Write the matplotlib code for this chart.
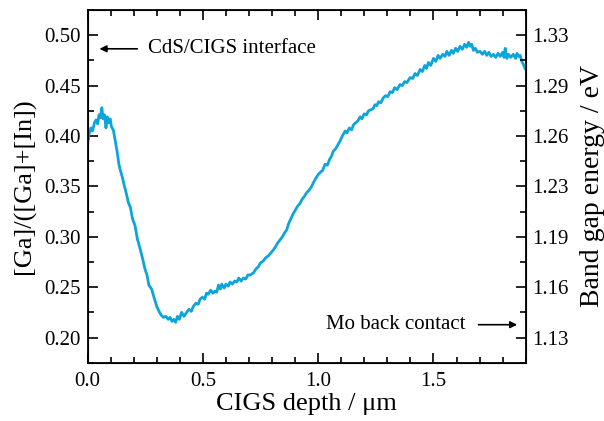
import matplotlib
matplotlib.use("Agg")
import matplotlib.pyplot as plt
from matplotlib.ticker import MultipleLocator

depth_um = [0.000, 0.008, 0.015, 0.022, 0.030, 0.037, 0.044, 0.050, 0.056, 0.062,
            0.068, 0.074, 0.080, 0.086, 0.092, 0.098, 0.104, 0.112, 0.119, 0.128,
            0.136, 0.141, 0.150, 0.158, 0.166, 0.177, 0.186, 0.195, 0.206, 0.216,
            0.228, 0.238, 0.249, 0.258, 0.266, 0.278, 0.288, 0.300, 0.310, 0.320,
            0.329, 0.340, 0.350, 0.358, 0.366, 0.374, 0.382, 0.390, 0.398, 0.408,
            0.418, 0.430, 0.440, 0.450, 0.459, 0.470, 0.480, 0.488, 0.498, 0.508,
            0.516, 0.524, 0.534, 0.544, 0.552, 0.560, 0.568, 0.576, 0.582, 0.592,
            0.600, 0.610, 0.618, 0.628, 0.638, 0.647, 0.656, 0.666, 0.676, 0.686,
            0.695, 0.705, 0.719, 0.730, 0.740, 0.750, 0.762, 0.772, 0.784, 0.795,
            0.806, 0.815, 0.825, 0.835, 0.845, 0.855, 0.864, 0.872, 0.880, 0.892,
            0.900, 0.910, 0.921, 0.930, 0.940, 0.951, 0.960, 0.972, 0.980, 0.990,
            1.001, 1.010, 1.020, 1.030, 1.040, 1.050, 1.058, 1.066, 1.075, 1.085,
            1.095, 1.105, 1.117, 1.125, 1.135, 1.145, 1.153, 1.162, 1.172, 1.182,
            1.190, 1.200, 1.210, 1.218, 1.228, 1.238, 1.246, 1.254, 1.262, 1.272,
            1.283, 1.292, 1.302, 1.312, 1.322, 1.332, 1.342, 1.355, 1.365, 1.375,
            1.385, 1.399, 1.410, 1.420, 1.430, 1.442, 1.452, 1.462, 1.470, 1.478,
            1.488, 1.500, 1.510, 1.520, 1.529, 1.540, 1.550, 1.558, 1.568, 1.578,
            1.586, 1.596, 1.605, 1.615, 1.625, 1.635, 1.644, 1.652, 1.659, 1.666,
            1.673, 1.682, 1.690, 1.702, 1.712, 1.722, 1.731, 1.740, 1.750, 1.760,
            1.770, 1.780, 1.789, 1.800, 1.806, 1.811, 1.818, 1.825, 1.835, 1.846,
            1.856, 1.862, 1.868, 1.876, 1.883, 1.890, 1.897]
ggi = [0.392, 0.403, 0.408, 0.405, 0.413, 0.416, 0.412, 0.421, 0.418, 0.428,
       0.417, 0.421, 0.408, 0.419, 0.413, 0.417, 0.409, 0.406, 0.397, 0.385,
       0.372, 0.367, 0.360, 0.352, 0.345, 0.334, 0.329, 0.318, 0.311, 0.298,
       0.288, 0.279, 0.268, 0.262, 0.252, 0.248, 0.240, 0.231, 0.226, 0.222,
       0.220, 0.221, 0.218, 0.220, 0.216, 0.218, 0.215, 0.221, 0.218, 0.225,
       0.221, 0.225, 0.228, 0.226, 0.231, 0.234, 0.233, 0.238, 0.240, 0.238,
       0.244, 0.243, 0.247, 0.244, 0.246, 0.245, 0.252, 0.248, 0.253, 0.249,
       0.253, 0.251, 0.255, 0.253, 0.256, 0.255, 0.259, 0.256, 0.259, 0.258,
       0.262, 0.262, 0.264, 0.268, 0.270, 0.274, 0.276, 0.279, 0.281, 0.284,
       0.287, 0.290, 0.294, 0.297, 0.300, 0.304, 0.307, 0.313, 0.317, 0.323,
       0.326, 0.330, 0.333, 0.337, 0.340, 0.344, 0.346, 0.350, 0.354, 0.358,
       0.362, 0.364, 0.366, 0.372, 0.371, 0.377, 0.380, 0.385, 0.387, 0.391,
       0.395, 0.400, 0.405, 0.403, 0.408, 0.406, 0.411, 0.413, 0.415, 0.419,
       0.417, 0.422, 0.421, 0.425, 0.426, 0.427, 0.431, 0.430, 0.434, 0.433,
       0.438, 0.440, 0.439, 0.444, 0.443, 0.448, 0.446, 0.451, 0.450, 0.454,
       0.453, 0.458, 0.457, 0.462, 0.460, 0.466, 0.464, 0.470, 0.467, 0.473,
       0.470, 0.477, 0.474, 0.480, 0.477, 0.481, 0.479, 0.484, 0.480, 0.485,
       0.482, 0.487, 0.484, 0.489, 0.486, 0.491, 0.488, 0.493, 0.489, 0.491,
       0.485, 0.487, 0.483, 0.484, 0.481, 0.484, 0.480, 0.483, 0.479, 0.481,
       0.478, 0.482, 0.479, 0.483, 0.478, 0.487, 0.477, 0.481, 0.478, 0.481,
       0.477, 0.482, 0.479, 0.480, 0.474, 0.471, 0.467]

left_ticks = [0.20, 0.25, 0.30, 0.35, 0.40, 0.45, 0.50]
left_labels = ["0.20", "0.25", "0.30", "0.35", "0.40", "0.45", "0.50"]
right_labels = ["1.13", "1.16", "1.19", "1.23", "1.26", "1.29", "1.33"]
x_ticks = [0.0, 0.5, 1.0, 1.5]
x_labels = ["0.0", "0.5", "1.0", "1.5"]

plt.rcParams['font.family'] = ['Liberation Serif', 'DejaVu Serif']

fig = plt.figure(figsize=(6.04, 4.21), dpi=100)
ax = fig.add_axes([0.1449, 0.1385, 0.7255, 0.8377])
ax.plot(depth_um, ggi, color='#0ba5dc', lw=2.0)
ax.set_xlim(0, 1.9)
ax.set_ylim(0.175, 0.525)
ax.set_xticks(x_ticks)
ax.set_xticklabels(x_labels)
ax.set_yticks(left_ticks)
ax.set_yticklabels(left_labels)
ax.xaxis.set_minor_locator(MultipleLocator(0.1))
ax.yaxis.set_minor_locator(MultipleLocator(0.025))
ax.tick_params(which='both', direction='in', top=True, right=False, width=1.2, labelsize=15)
ax.tick_params(which='major', length=7)
ax.tick_params(which='minor', length=4)
ax.tick_params(axis='x', pad=7)
ax.tick_params(axis='y', pad=5)
for s in ax.spines.values():
    s.set_linewidth(1.3)

ax2 = ax.twinx()
ax2.set_ylim(ax.get_ylim())
ax2.set_yticks(left_ticks)
ax2.set_yticklabels(right_labels)
ax2.yaxis.set_minor_locator(MultipleLocator(0.025))
ax2.tick_params(which='both', direction='in', width=1.2, labelsize=15, pad=5)
ax2.tick_params(which='major', length=7)
ax2.tick_params(which='minor', length=4)

ax.set_xlabel('CIGS depth / μm', fontsize=19, labelpad=1)
ax.set_ylabel('[Ga]/([Ga]+[In])', fontsize=19, labelpad=6)
ax2.set_ylabel('Band gap energy / eV', fontsize=20, labelpad=8)

ax.annotate('', xy=(0.04, 0.4865), xytext=(0.228, 0.4865),
            arrowprops=dict(arrowstyle='-|>', color='black', lw=1.2, mutation_scale=10))
ax.text(0.262, 0.4865, 'CdS/CIGS interface', fontsize=15, va='center', ha='left')
ax.annotate('', xy=(1.875, 0.2127), xytext=(1.683, 0.2127),
            arrowprops=dict(arrowstyle='-|>', color='black', lw=1.2, mutation_scale=10))
ax.text(1.637, 0.2127, 'Mo back contact', fontsize=15, va='center', ha='right')

fig.savefig('out.png', dpi=100)
